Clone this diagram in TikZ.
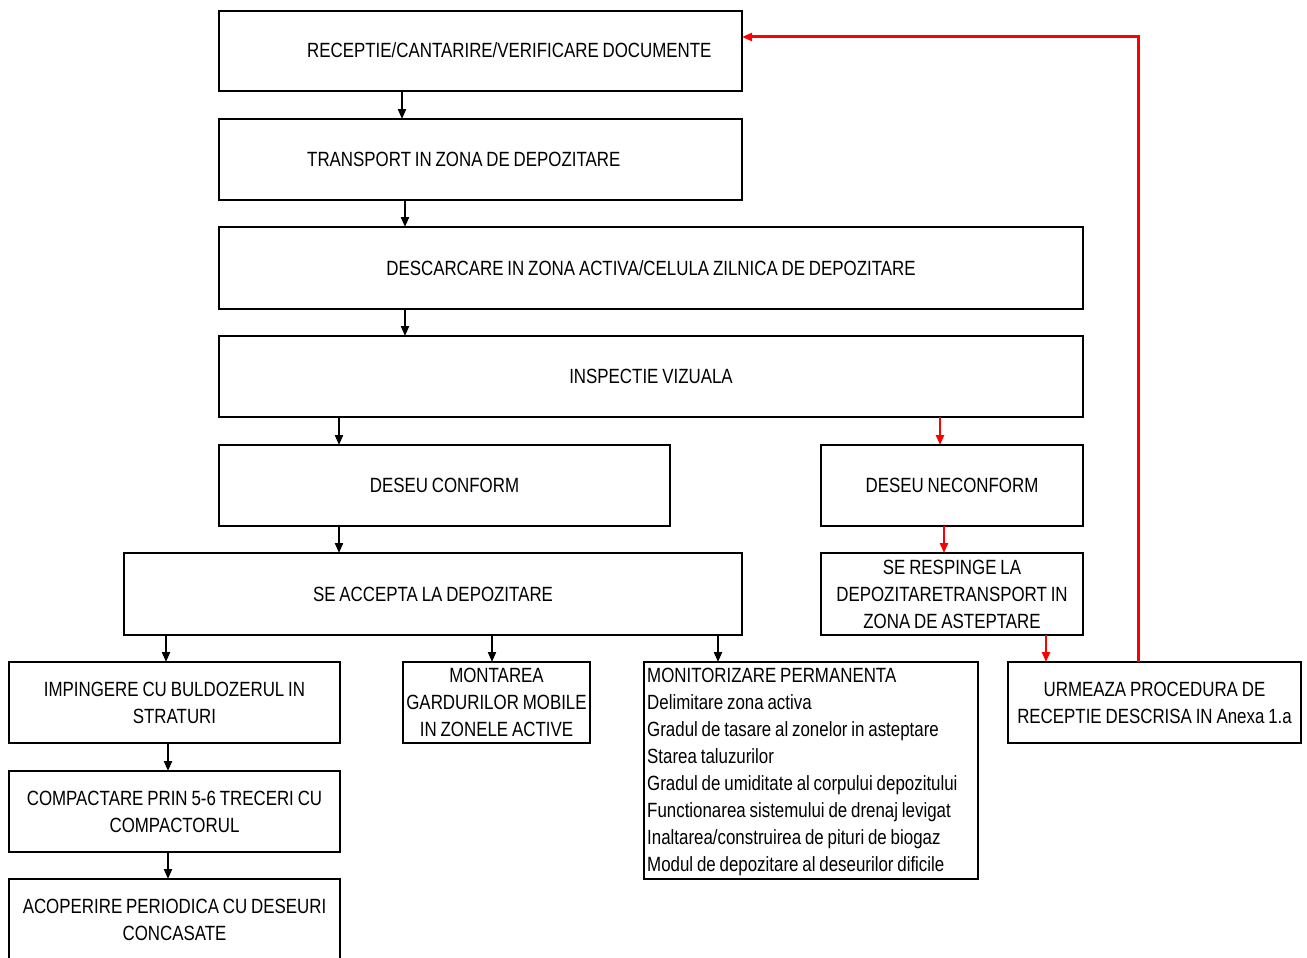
\documentclass[tikz,border=0pt]{standalone}
\usepackage{fontspec}
\setmainfont{Liberation Sans}[FakeStretch=0.82, WordSpace=0.82]
\usetikzlibrary{arrows.meta}
\tikzset{
  box/.style={draw=black, line width=2.8pt, outer sep=0pt, inner sep=2pt, align=center, font=\fontsize{20.6}{27}\selectfont},
  lbl/.style={inner sep=0pt, anchor=west, font=\fontsize{20.6}{27}\selectfont},
  blk/.style={draw=black, line width=2pt, -{Triangle[length=10pt,width=8pt]}},
  redarr/.style={draw=red, line width=2.4pt, -{Triangle[length=10pt,width=8pt]}},
  redline/.style={draw=red, line width=3pt, -{Triangle[length=10pt,width=8pt]}}
}
\begin{document}
\begin{tikzpicture}[x=1pt, y=-1pt]
\useasboundingbox (0,0) rectangle (1307,958);
\node[box, minimum width=523, minimum height=80] (b1) at (480.5,51) {};
\node[lbl] (t1) at (307,50) {RECEPTIE/CANTARIRE/VERIFICARE DOCUMENTE};
\node[box, minimum width=523, minimum height=81] (b2) at (480.5,159.5) {};
\node[lbl] (t2) at (307,159) {TRANSPORT IN ZONA DE DEPOZITARE};
\node[box, minimum width=864, minimum height=82] (b3) at (651,268) {DESCARCARE IN ZONA ACTIVA/CELULA ZILNICA DE DEPOZITARE};
\node[box, minimum width=864, minimum height=81] (b4) at (651,376.5) {INSPECTIE VIZUALA};
\node[box, minimum width=451, minimum height=81] (b5) at (444.5,485.5) {DESEU CONFORM};
\node[box, minimum width=262, minimum height=81] (b6) at (952,485.5) {DESEU NECONFORM};
\node[box, minimum width=618, minimum height=82] (b7) at (433,594) {SE ACCEPTA LA DEPOZITARE};
\node[box, minimum width=262, minimum height=82] (b8) at (952,594) {SE RESPINGE LA\\DEPOZITARETRANSPORT IN\\ZONA DE ASTEPTARE};
\node[box, minimum width=331, minimum height=81] (b9) at (174.5,702.5) {IMPINGERE CU BULDOZERUL IN\\STRATURI};
\node[box, minimum width=187, minimum height=81] (b10) at (496.5,702.5) {MONTAREA\\GARDURILOR MOBILE\\IN ZONELE ACTIVE};
\node[box, minimum width=334, minimum height=217] (b11) at (811,770.5) {};
\node[lbl, align=left] (t11) at (647,772) {MONITORIZARE PERMANENTA\\Delimitare zona activa\\Gradul de tasare al zonelor in asteptare\\Starea taluzurilor\\Gradul de umiditate al corpului depozitului\\Functionarea sistemului de drenaj levigat\\Inaltarea/construirea de pituri de biogaz\\Modul de depozitare al deseurilor dificile};
\node[box, minimum width=293, minimum height=81] (b12) at (1154.5,702.5) {URMEAZA PROCEDURA DE\\RECEPTIE DESCRISA IN Anexa 1.a};
\node[box, minimum width=331, minimum height=81] (b13) at (174.5,811.5) {COMPACTARE PRIN 5-6 TRECERI CU\\COMPACTORUL};
\node[box, minimum width=331, minimum height=81] (b14) at (174.5,919.5) {ACOPERIRE PERIODICA CU DESEURI\\CONCASATE};
% black arrows
\draw[blk] ([xshift=183pt]b1.south west) -- ([xshift=183pt]b2.north west);
\draw[blk] ([xshift=186pt]b2.south west) -- ([xshift=186pt]b3.north west);
\draw[blk] ([xshift=186pt]b3.south west) -- ([xshift=186pt]b4.north west);
\draw[blk] ([xshift=120pt]b4.south west) -- ([xshift=120pt]b5.north west);
\draw[blk] ([xshift=120pt]b5.south west) -- ([xshift=215pt]b7.north west);
\draw[blk] ([xshift=42pt]b7.south west) -- ([xshift=157pt]b9.north west);
\draw[blk] ([xshift=368pt]b7.south west) -- ([xshift=89pt]b10.north west);
\draw[blk] ([xshift=594pt]b7.south west) -- ([xshift=74pt]b11.north west);
\draw[blk] ([xshift=159pt]b9.south west) -- ([xshift=159pt]b13.north west);
\draw[blk] ([xshift=159pt]b13.south west) -- ([xshift=159pt]b14.north west);
% red arrows
\draw[redarr] ([xshift=721pt]b4.south west) -- ([xshift=119pt]b6.north west);
\draw[redarr] ([xshift=123pt]b6.south west) -- ([xshift=123pt]b8.north west);
\draw[redarr] ([xshift=225pt]b8.south west) -- ([xshift=38pt]b12.north west);
\draw[redline] ([xshift=130pt]b12.north west) |- ([yshift=14pt]b1.east);
\end{tikzpicture}
\end{document}
